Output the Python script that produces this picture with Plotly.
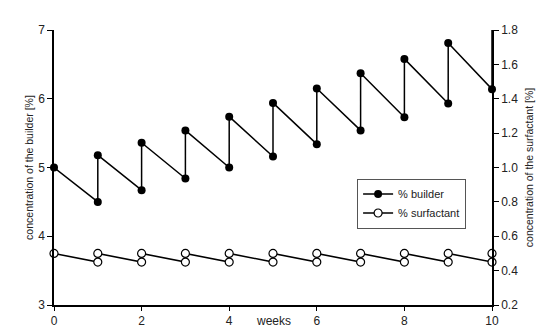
import plotly.graph_objects as go

weeks = [1, 2, 3, 4, 5, 6, 7, 8, 9, 10]
builder_start = 5.0
builder_before = [4.50, 4.67, 4.84, 5.00, 5.16, 5.34, 5.54, 5.73, 5.93, 6.14]
builder_after = [5.18, 5.36, 5.54, 5.74, 5.94, 6.15, 6.37, 6.58, 6.81, 7.04]
surf_start = 0.5
surf_before = [0.45, 0.45, 0.45, 0.45, 0.45, 0.45, 0.45, 0.45, 0.45, 0.45]
surf_after = [0.50, 0.50, 0.50, 0.50, 0.50, 0.50, 0.50, 0.50, 0.50, 0.50]

bx, by, sx, sy = [0], [builder_start], [0], [surf_start]
for w, b1, b2, s1, s2 in zip(weeks, builder_before, builder_after, surf_before, surf_after):
    bx += [w, w]; by += [b1, b2]
    sx += [w, w]; sy += [s1, s2]

font = dict(family="Liberation Sans, Arial, sans-serif", size=12, color="#222")

fig = go.Figure()
fig.add_trace(go.Scatter(x=bx, y=by, mode="lines+markers", name="% builder",
                         line=dict(color="black", width=1.5),
                         marker=dict(symbol="circle", size=8, color="black"),
                         cliponaxis=False))
fig.add_trace(go.Scatter(x=sx, y=sy, mode="lines+markers", name="% surfactant", yaxis="y2",
                         line=dict(color="black", width=1.5),
                         marker=dict(symbol="circle", size=8, color="white",
                                     line=dict(color="black", width=1.2)),
                         cliponaxis=False))

fig.update_layout(
    width=553, height=331,
    margin=dict(l=54, r=61, t=30, b=26, autoexpand=False),
    paper_bgcolor="white", plot_bgcolor="white",
    font=font,
    showlegend=True,
    legend=dict(x=0.692, y=0.46, xanchor="left", yanchor="top",
                bordercolor="#555", borderwidth=1, bgcolor="white",
                font=dict(size=11, color="#222"), tracegroupgap=0,
                itemwidth=30),
    xaxis=dict(range=[0, 10], tickvals=[0, 2, 4, 6, 8, 10], showline=True,
               linecolor="black", linewidth=1.5, ticks="outside", ticklen=4,
               tickcolor="black", showgrid=False, zeroline=False, automargin=False),
    yaxis=dict(range=[3, 7], dtick=1, showline=True, linecolor="black", linewidth=1.5,
               ticks="outside", ticklen=5, tickcolor="black", showgrid=False,
               zeroline=False, automargin=False,
               title=dict(text="concentration of the builder [%]", standoff=2,
                          font=dict(size=10.5, color="#222"))),
    yaxis2=dict(range=[0.2, 1.8], dtick=0.2, tickformat=".1f", overlaying="y",
                side="right", showline=True, linecolor="black", linewidth=1.5,
                ticks="outside", ticklen=5, tickcolor="black", showgrid=False,
                zeroline=False, automargin=False,
                title=dict(text="concentration of the surfactant [%]", standoff=8,
                           font=dict(size=10.5, color="#222"))),
    annotations=[dict(x=5, y=-0.025, xref="x", yref="paper", text="weeks",
                      showarrow=False, yanchor="top", font=dict(size=12, color="#222"))],
)

fig.write_html("out.html")
